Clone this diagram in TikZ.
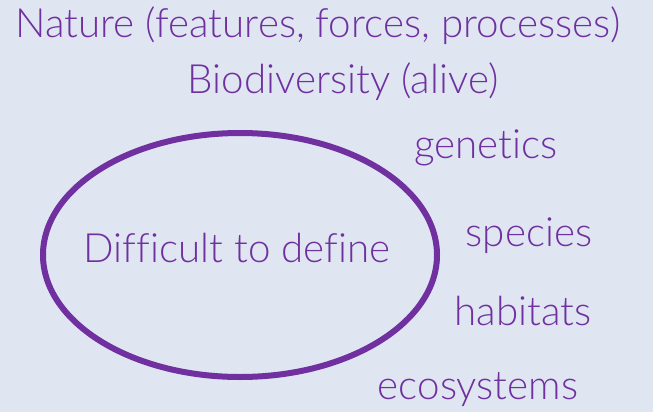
\documentclass[tikz,border=0pt]{standalone}
\usepackage{fontspec}
\usetikzlibrary{shapes.geometric}
\setmainfont{Lato Light}[Ligatures=NoCommon]
\definecolor{bgc}{HTML}{DFE6F2}
\definecolor{purp}{HTML}{7030A0}
\begin{document}
\begin{tikzpicture}[x=1pt,y=-1pt,
  lbl/.style={text=purp,font=\fontsize{40.3}{44}\selectfont,inner sep=0pt,anchor=center}]
\fill[bgc] (0,0) rectangle (653,412);
\useasboundingbox (0,0) rectangle (653,412);
\node[lbl] (nature) at (318,26) {Nature (features, forces, processes)};
\node[lbl] (bio) at (343,82) {Biodiversity (alive)};
\node[lbl] (gen) at (486,148) {genetics};
\node[lbl] (spe) at (529,236) {species};
\node[lbl] (hab) at (523,311) {habitats};
\node[lbl] (eco) at (478,390) {ecosystems};
\node[draw=purp,line width=6pt,ellipse,minimum width=394pt,minimum height=244pt,inner sep=0pt] (ell) at (240,255) {};
\node[lbl] (diff) at (237,248) {Difficult to define};
\end{tikzpicture}
\end{document}
